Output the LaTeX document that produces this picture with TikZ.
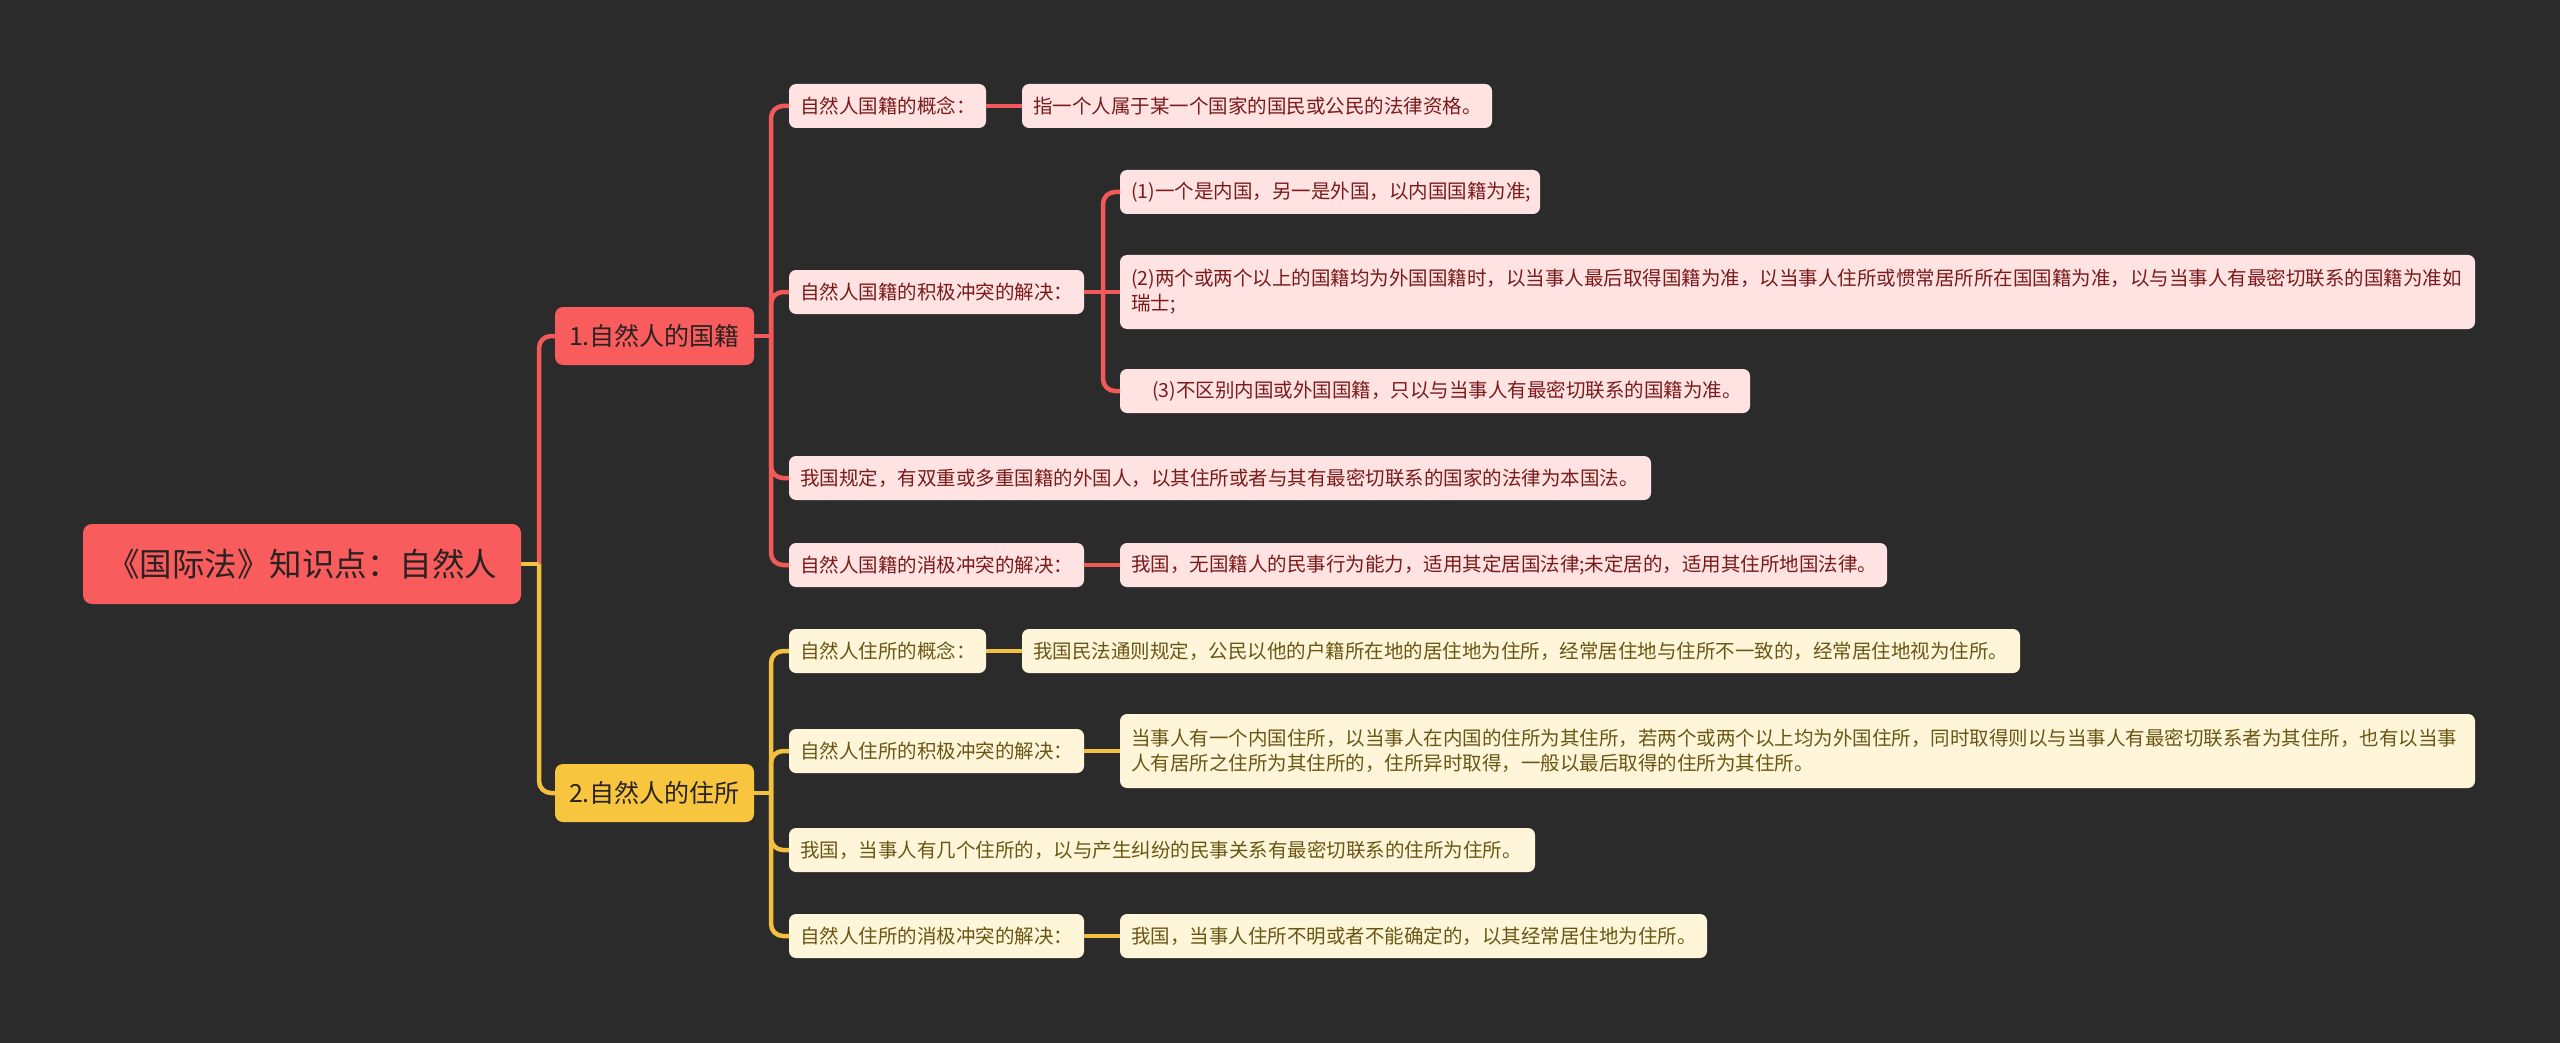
\documentclass[tikz,border=0pt]{standalone}
\usepackage{fontspec}
\setmainfont{Noto Sans CJK SC}
\definecolor{bgc}{HTML}{2B2B2B}
\definecolor{redm}{HTML}{F85C5C}
\definecolor{yelm}{HTML}{F8C63E}
\definecolor{redl}{HTML}{F25A5A}
\definecolor{yell}{HTML}{F4C040}
\definecolor{pinkf}{HTML}{FFE3E3}
\definecolor{creamf}{HTML}{FFF6DA}
\definecolor{redt}{HTML}{7A1A1A}
\definecolor{yelt}{HTML}{6A5614}
\definecolor{darkt}{HTML}{2A2222}
\begin{document}
\begin{tikzpicture}[x=1pt,y=-1pt,
  every node/.style={outer sep=0pt},
  rootbox/.style={fill=redm, rounded corners=9pt, anchor=west, minimum width=438pt, minimum height=80pt, inner sep=0pt, text=darkt, font=\fontsize{32.5}{36}\selectfont},
  lonebox/.style={rounded corners=8pt, anchor=west, minimum width=199pt, minimum height=58pt, inner sep=0pt, text=darkt, font=\fontsize{25}{30}\selectfont},
  leafbox/.style={rounded corners=7pt, anchor=west, inner xsep=11pt, inner ysep=0pt, align=left, minimum height=44pt, font=\fontsize{19.5}{25}\selectfont},
  rleaf/.style={leafbox, fill=pinkf, text=redt},
  yleaf/.style={leafbox, fill=creamf, text=yelt},
  rline/.style={draw=redl, line width=4.5pt, rounded corners=12pt},
  yline/.style={draw=yell, line width=4.5pt, rounded corners=12pt}
]
\fill[bgc] (0,0) rectangle (2560,1043);
\useasboundingbox (0,0) rectangle (2560,1043);

% root and level 1
\node[rootbox] (root) at (83,564) {《国际法》知识点：自然人};
\node[lonebox, fill=redm] (na) at (555,336) {1.自然人的国籍};
\node[lonebox, fill=yelm] (nb) at (555,793) {2.自然人的住所};

% red leaves
\node[rleaf, text width=175pt] (a1) at (789,106) {自然人国籍的概念：};
\node[rleaf, text width=448pt] (a1c) at (1022,106) {指一个人属于某一个国家的国民或公民的法律资格。};
\node[rleaf, text width=273pt] (a2) at (789,292) {自然人国籍的积极冲突的解决：};
\node[rleaf, text width=398pt] (a2c1) at (1120,192) {(1)一个是内国，另一是外国，以内国国籍为准;};
\node[rleaf, text width=1333pt, minimum height=74pt] (a2c2) at (1120,292) {(2)两个或两个以上的国籍均为外国国籍时，以当事人最后取得国籍为准，以当事人住所或惯常居所所在国国籍为准，以与当事人有最密切联系的国籍为准如\\瑞士;};
\node[rleaf, text width=608pt] (a2c3) at (1120,391) {\hspace*{21pt}(3)不区别内国或外国国籍，只以与当事人有最密切联系的国籍为准。};
\node[rleaf, text width=840pt] (a3) at (789,478) {我国规定，有双重或多重国籍的外国人，以其住所或者与其有最密切联系的国家的法律为本国法。};
\node[rleaf, text width=273pt] (a4) at (789,565) {自然人国籍的消极冲突的解决：};
\node[rleaf, text width=745pt] (a4c) at (1120,565) {我国，无国籍人的民事行为能力，适用其定居国法律;未定居的，适用其住所地国法律。};

% yellow leaves
\node[yleaf, text width=175pt] (b1) at (789,651) {自然人住所的概念：};
\node[yleaf, text width=976pt] (b1c) at (1022,651) {我国民法通则规定，公民以他的户籍所在地的居住地为住所，经常居住地与住所不一致的，经常居住地视为住所。};
\node[yleaf, text width=273pt] (b2) at (789,751) {自然人住所的积极冲突的解决：};
\node[yleaf, text width=1333pt, minimum height=74pt] (b2c) at (1120,751) {当事人有一个内国住所，以当事人在内国的住所为其住所，若两个或两个以上均为外国住所，同时取得则以与当事人有最密切联系者为其住所，也有以当事\\人有居所之住所为其住所的，住所异时取得，一般以最后取得的住所为其住所。};
\node[yleaf, text width=724pt] (b3) at (789,850) {我国，当事人有几个住所的，以与产生纠纷的民事关系有最密切联系的住所为住所。};
\node[yleaf, text width=273pt] (b4) at (789,936) {自然人住所的消极冲突的解决：};
\node[yleaf, text width=565pt] (b4c) at (1120,936) {我国，当事人住所不明或者不能确定的，以其经常居住地为住所。};

% junctions
\coordinate (j0) at (539,564);
\coordinate (ja) at (771,336);
\coordinate (jb) at (771,793);
\coordinate (ja2) at (1103,292);

% connectors root -> level 1
\draw[rline] (j0) |- (na.west);
\draw[yline] (j0) |- (nb.west);
\draw[yline] (root.east) -- (j0);

% red branch
\draw[rline] (na.east) -- (ja);
\draw[rline] (ja) |- (a1.west);
\draw[rline] (ja) |- (a2.west);
\draw[rline] (ja) |- (a3.west);
\draw[rline] (ja) |- (a4.west);
\draw[rline] (a1.east) -- (a1c.west);
\draw[rline] (a2.east) -- (ja2);
\draw[rline] (ja2) |- (a2c1.west);
\draw[rline] (ja2) -- (a2c2.west);
\draw[rline] (ja2) |- (a2c3.west);
\draw[rline] (a4.east) -- (a4c.west);

% yellow branch
\draw[yline] (nb.east) -- (jb);
\draw[yline] (jb) |- (b1.west);
\draw[yline] (jb) |- (b2.west);
\draw[yline] (jb) |- (b3.west);
\draw[yline] (jb) |- (b4.west);
\draw[yline] (b1.east) -- (b1c.west);
\draw[yline] (b2.east) -- (b2c.west);
\draw[yline] (b4.east) -- (b4c.west);
\end{tikzpicture}
\end{document}
